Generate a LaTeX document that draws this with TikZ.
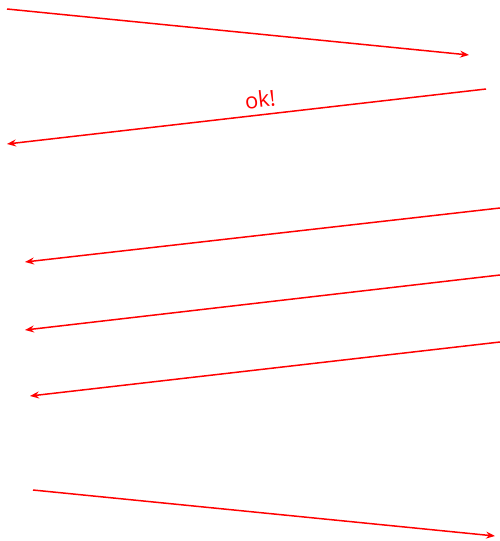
\documentclass[tikz,border=0pt]{standalone}
\usepackage{fontspec}
\setmainfont{Open Sans}
\usetikzlibrary{arrows.meta}
\begin{document}
\begin{tikzpicture}[x=1pt,y=-1pt,
  msg/.style={draw=red,line width=1.5pt,-{Stealth[length=9pt,width=7pt,inset=3pt]}},
  lbl/.style={text=red,font=\fontsize{22}{24}\selectfont,inner sep=1pt}]
\useasboundingbox (0,0) rectangle (500,541);
\coordinate (a1s) at (7,9);    \coordinate (a1e) at (469,55);
\coordinate (a2s) at (486,89); \coordinate (a2e) at (7,144);
\coordinate (a3s) at (500,208); \coordinate (a3e) at (25,262);
\coordinate (a4s) at (500,275); \coordinate (a4e) at (25,330);
\coordinate (a5s) at (500,342); \coordinate (a5e) at (30,396);
\coordinate (a6s) at (33,490); \coordinate (a6e) at (495,536);
\draw[msg] (a1s) -- (a1e);
\draw[msg] (a2s) -- node[lbl,pos=0.468,sloped,above=5pt] (ok) {ok!} (a2e);
\draw[msg] (a3s) -- (a3e);
\draw[msg] (a4s) -- (a4e);
\draw[msg] (a5s) -- (a5e);
\draw[msg] (a6s) -- (a6e);
\end{tikzpicture}
\end{document}
